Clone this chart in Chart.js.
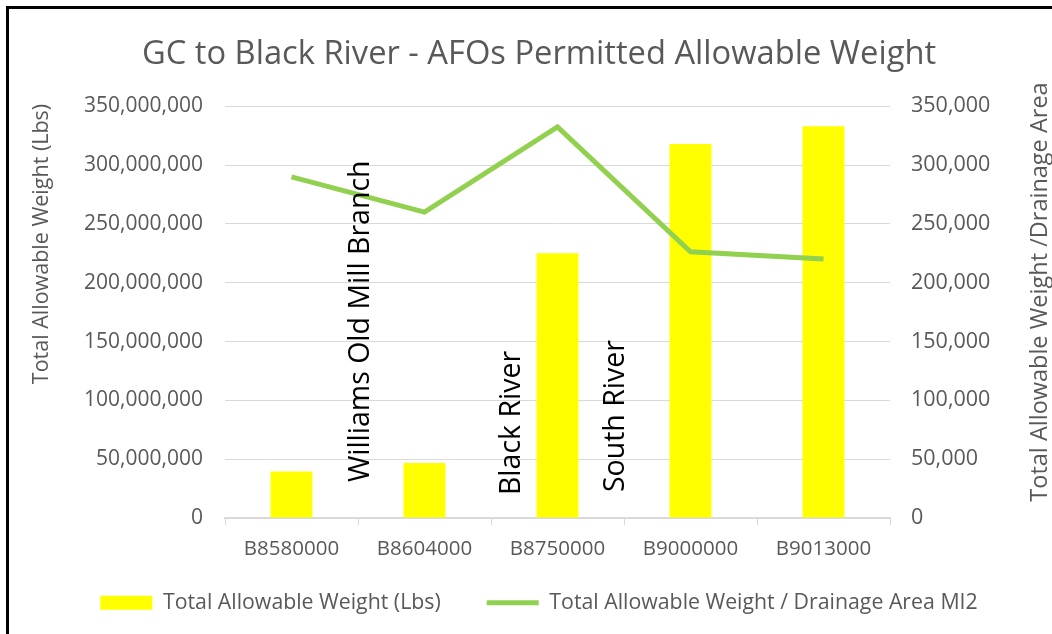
<!DOCTYPE html>
<html>
<head>
<meta charset="utf-8">
<script src="https://cdn.jsdelivr.net/npm/chart.js@4"></script>
<style>
  body { margin: 0; background: #fff; }
</style>
</head>
<body>
<canvas id="afoChart" width="1052" height="634"></canvas>
<script>
// DATA
const stations = ["B8580000", "B8604000", "B8750000", "B9000000", "B9013000"];
const allowableWeight = [39500000, 46800000, 225000000, 318000000, 333000000];
const weightPerArea = [290000, 260000, 332500, 226300, 220100];

// river text boxes, placed in axis units (category index, left-axis value of text bottom)
const riverNotes = [
  { text: "Williams Old Mill Branch", at: 0.52, bottom: 30500000 },
  { text: "Black River", at: 1.66, bottom: 19500000 },
  { text: "South River", at: 2.44, bottom: 22000000 }
];

const grey = "#595959";
const gridGrey = "#d9d9d9";
const fontFamily = "'Open Sans', sans-serif";

// frame on the top and left edges
const framePlugin = {
  id: "frame",
  afterDraw(chart) {
    const ctx = chart.ctx;
    ctx.save();
    ctx.fillStyle = "#000";
    ctx.fillRect(6, 6, chart.width - 6, 3);
    ctx.fillRect(6, 6, 3, chart.height - 6);
    ctx.restore();
  }
};

// legend padding is big for the gap between items, pull the row back up
const legendShift = {
  id: "legendShift",
  afterLayout(chart) {
    chart.legend.top = 546;
  }
};

function verticalText(ctx, text, x, y) {
  ctx.save();
  ctx.translate(x, y);
  ctx.rotate(-Math.PI / 2);
  ctx.fillText(text, 0, 0);
  ctx.restore();
}

// rotated river labels + both axis titles (read bottom to top, as in Excel)
const notesPlugin = {
  id: "notes",
  afterDatasetsDraw(chart) {
    const ctx = chart.ctx;
    const x = chart.scales.x, y = chart.scales.y;
    ctx.save();
    ctx.fillStyle = "#000";
    ctx.font = "28.5px " + fontFamily;
    ctx.textAlign = "left";
    ctx.textBaseline = "middle";
    riverNotes.forEach(n => {
      verticalText(ctx, n.text, x.getPixelForValue(n.at), y.getPixelForValue(n.bottom));
    });
    ctx.fillStyle = grey;
    ctx.textAlign = "center";
    ctx.font = "21.5px " + fontFamily;
    verticalText(ctx, "Total Allowable Weight (Lbs)", 42, 244);
    ctx.font = "23.5px " + fontFamily;
    verticalText(ctx, "Total Allowable Weight /Drainage Area", 1040, 292);
    ctx.restore();
  }
};

new Chart(document.getElementById("afoChart"), {
  data: {
    labels: stations,
    datasets: [{
      type: "line",
      label: "Total Allowable Weight / Drainage Area MI2",
      data: weightPerArea,
      yAxisID: "y1",
      borderColor: "#92d050",
      backgroundColor: "#92d050",
      borderWidth: 5,
      pointRadius: 0,
      pointStyle: "line",
      tension: 0,
      order: 0
    }, {
      type: "bar",
      label: "Total Allowable Weight (Lbs)",
      data: allowableWeight,
      yAxisID: "y",
      backgroundColor: "#ffff00",
      borderWidth: 0,
      pointStyle: "rect",
      categoryPercentage: 1,
      barPercentage: 0.315,
      order: 1
    }]
  },
  options: {
    responsive: false,
    animation: false,
    layout: { padding: { top: 35, bottom: 0, left: 26 } },
    plugins: {
      title: {
        display: true,
        text: "GC to Black River - AFOs Permitted Allowable Weight",
        color: grey,
        font: { family: fontFamily, size: 32.7, weight: "normal" },
        padding: { top: 0, bottom: 32 }
      },
      legend: {
        position: "bottom",
        reverse: true,
        maxHeight: 64,
        labels: {
          color: grey,
          font: { family: fontFamily, size: 21.3 },
          usePointStyle: true,
          pointStyleWidth: 52,
          boxHeight: 14,
          padding: 46
        }
      },
      tooltip: { enabled: false }
    },
    scales: {
      x: {
        grid: {
          offset: true,
          drawOnChartArea: false,
          drawTicks: true,
          tickLength: 7,
          color: gridGrey
        },
        border: { display: true, color: gridGrey, width: 2 },
        ticks: { color: grey, font: { family: fontFamily, size: 20.5 }, padding: 12, maxRotation: 0 },
        afterFit(scale) { scale.height = 52; }
      },
      y: {
        position: "left",
        min: 0,
        max: 350000000,
        grid: { color: gridGrey, drawTicks: false },
        border: { display: false },
        ticks: {
          stepSize: 50000000,
          color: grey,
          padding: 22,
          font: { family: fontFamily, size: 21 },
          callback: v => v.toLocaleString("en-US")
        },
        afterFit(scale) { scale.width = 199; }
      },
      y1: {
        position: "right",
        min: 0,
        max: 350000,
        grid: { display: false },
        border: { display: false },
        ticks: {
          stepSize: 50000,
          color: grey,
          padding: 13,
          font: { family: fontFamily, size: 21.5 },
          callback: v => v.toLocaleString("en-US")
        },
        afterFit(scale) { scale.width = 162; }
      }
    }
  },
  plugins: [framePlugin, legendShift, notesPlugin]
});
</script>
</body>
</html>
